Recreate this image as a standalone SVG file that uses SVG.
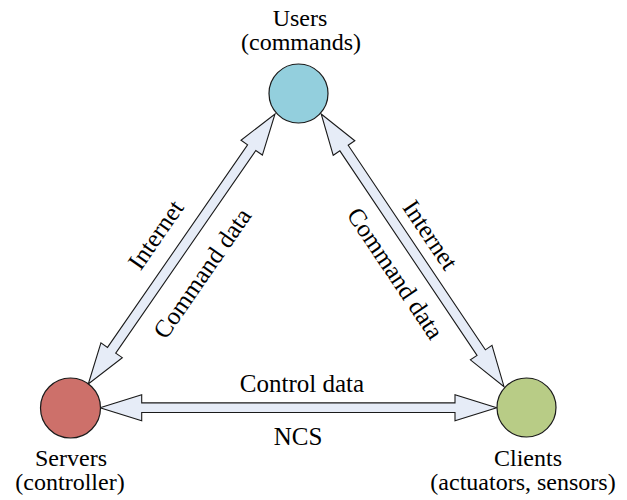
<svg xmlns="http://www.w3.org/2000/svg" width="627" height="500" viewBox="0 0 627 500">
  <style>
    text { font-family: 'Liberation Serif', 'Times New Roman', serif; font-size: 25px; fill: #000; text-anchor: middle; }
    .cap { font-size: 24px; }
    .node { stroke: #1a1a1a; stroke-width: 1.2; }
    .arrow { fill: #e6ecf7; stroke: #1a1a1a; stroke-width: 1.1; stroke-linejoin: miter; }
  </style>
  <rect width="627" height="500" fill="#ffffff"/>

  <!-- double-headed block arrows between the nodes -->
  <g id="connectors">
    <!-- Servers <-> Users -->
    <g transform="translate(88.3,384) rotate(-55.34)">
      <polygon class="arrow" points="0,0 41,-13 41,-5 287.3,-5 287.3,-13 328.3,0 287.3,13 287.3,5 41,5 41,13"/>
    </g>
    <!-- Users <-> Clients -->
    <g transform="translate(321.2,114) rotate(56.16)">
      <polygon class="arrow" points="0,0 41,-13 41,-5 287.3,-5 287.3,-13 328.3,0 287.3,13 287.3,5 41,5 41,13"/>
    </g>
    <!-- Servers <-> Clients -->
    <g transform="translate(100,407.7)">
      <polygon class="arrow" points="0,0 41.7,-13 41.7,-4.8 355,-4.8 355,-13 396.7,0 355,13 355,4.8 41.7,4.8 41.7,13"/>
    </g>

    <!-- connector labels -->
    <text transform="translate(156,235) rotate(-55.34)" y="8">Internet</text>
    <text transform="translate(202.5,273.5) rotate(-55.34)" y="8">Command data</text>
    <text transform="translate(430,235) rotate(56.16)" y="8">Internet</text>
    <text transform="translate(395,273.5) rotate(56.16)" y="8">Command data</text>
    <text x="302" y="392">Control data</text>
    <text x="298" y="445">NCS</text>
  </g>

  <g id="users">
    <circle class="node" cx="298.5" cy="93.5" r="29.5" fill="#93cfdd"/>
    <text class="cap" x="300" y="26">Users</text>
    <text class="cap" x="301" y="50">(commands)</text>
  </g>

  <g id="servers">
    <circle class="node" cx="70.5" cy="408" r="30" fill="#cd706a"/>
    <text class="cap" x="71" y="466">Servers</text>
    <text class="cap" x="70" y="490">(controller)</text>
  </g>

  <g id="clients">
    <circle class="node" cx="526.5" cy="407.5" r="29.5" fill="#b8cc86"/>
    <text class="cap" x="528" y="466">Clients</text>
    <text class="cap" x="523" y="490">(actuators, sensors)</text>
  </g>
</svg>
